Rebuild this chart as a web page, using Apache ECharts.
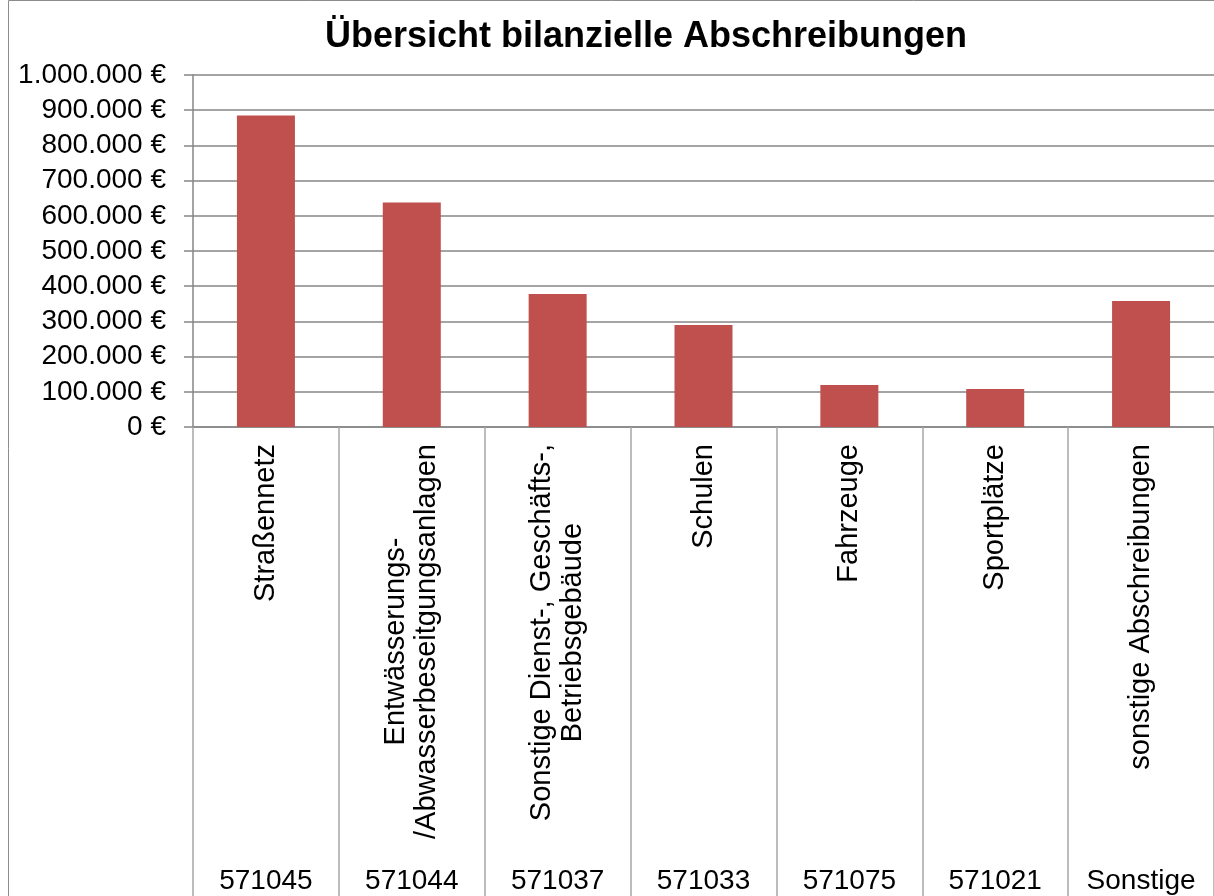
<!DOCTYPE html>
<html>
<head>
<meta charset="utf-8">
<script src="https://cdn.jsdelivr.net/npm/echarts@6/dist/echarts.min.js"></script>
<style>
  html, body { margin: 0; padding: 0; background: #fff; }
  #chart { width: 1214px; height: 896px; }
</style>
</head>
<body>
<div id="chart"></div>
<script>
// data
var categories = [
  "Straßennetz",
  "Entwässerungs-\n/Abwasserbeseitgungsanlagen",
  "Sonstige Dienst-, Geschäfts-,\nBetriebsgebäude",
  "Schulen",
  "Fahrzeuge",
  "Sportplätze",
  "sonstige Abschreibungen"
];
var codes = ["571045", "571044", "571037", "571033", "571075", "571021", "Sonstige"];
var values = [885000, 638000, 378000, 290000, 119000, 108000, 358000];

var font = "'Liberation Sans', Arial, sans-serif";

function euro(v) {
  return String(v).replace(/\B(?=(\d{3})+(?!\d))/g, ".") + " €";
}

var chart = echarts.init(document.getElementById("chart"));
chart.setOption({
  backgroundColor: "#ffffff",
  animation: false,
  title: {
    text: "Übersicht bilanzielle Abschreibungen",
    left: 641,
    textAlign: "center",
    top: 14,
    textStyle: {
      fontFamily: font,
      fontWeight: "bold",
      fontSize: 36,
      color: "#000"
    }
  },
  graphic: [
    {
      type: "rect",
      silent: true,
      shape: { x: 8.5, y: 0.5, width: 1220, height: 910 },
      style: { fill: null, stroke: "#8c8c8c", lineWidth: 1 }
    }
  ],
  grid: {
    left: 193,
    top: 75,
    width: 1024,
    bottom: 469,
    containLabel: false
  },
  xAxis: [
    {
      type: "category",
      data: categories,
      position: "bottom",
      axisLine: { lineStyle: { color: "#868686", width: 1.5 } },
      axisTick: {
        show: true,
        interval: 0,
        length: 470,
        lineStyle: { color: "#a6a6a6", width: 1.5 }
      },
      axisLabel: {
        interval: 0,
        rotate: 90,
        margin: 17,
        formatter: function (v) {
          return v.split("\n").map(function (s) { return "{c|" + s + "}"; }).join("\n");
        },
        rich: {
          c: {
            align: "center",
            fontFamily: font,
            fontSize: 29,
            lineHeight: 31,
            color: "#000"
          }
        }
      }
    },
    {
      type: "category",
      data: codes,
      position: "bottom",
      axisLine: { show: false },
      axisTick: { show: false },
      axisLabel: {
        interval: 0,
        margin: 440,
        fontFamily: font,
        fontSize: 28,
        color: "#000"
      }
    }
  ],
  yAxis: {
    type: "value",
    min: 0,
    max: 1000000,
    interval: 100000,
    axisLine: { show: true, lineStyle: { color: "#868686", width: 1.5 } },
    axisTick: { show: true, length: 9, lineStyle: { color: "#868686", width: 1.5 } },
    splitLine: { lineStyle: { color: "#868686", width: 1.5 } },
    axisLabel: {
      margin: 27,
      fontFamily: font,
      fontSize: 28,
      color: "#000",
      formatter: euro
    }
  },
  series: [
    {
      type: "bar",
      data: values,
      xAxisIndex: 0,
      barWidth: 58,
      itemStyle: { color: "#C0504D" }
    }
  ]
});
</script>
</body>
</html>
